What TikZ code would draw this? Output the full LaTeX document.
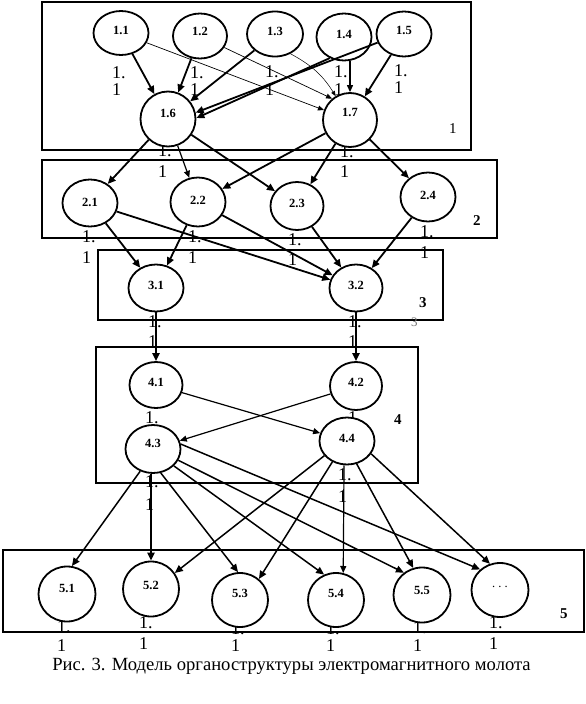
\documentclass[tikz,border=0pt]{standalone}
\usepackage{fontspec}
\setmainfont{Liberation Serif}
\usetikzlibrary{shapes.geometric,arrows.meta}
\newcommand\rs[2]{\raisebox{#1pt}[\height][\depth]{#2}}
\newcommand\strayp[4]{\node[stray] (#1a) at (#2,#3) {1.};\node[stray] (#1b) at (#2,#4) {1};}
\begin{document}
\begin{tikzpicture}[x=1pt,y=-1pt,
  nd/.style={draw,ellipse,line width=1.8pt,fill=white,inner sep=0pt,font=\fontsize{12.5}{13}\selectfont\bfseries},
  stray/.style={anchor=base west,inner sep=0pt,font=\fontsize{18}{20}\selectfont},
  boxl/.style={line width=2.6pt},
  blab/.style={anchor=base west,inner sep=0pt,font=\fontsize{15}{17}\selectfont\bfseries},
  thk/.style={line width=1.8pt,-{Triangle[length=8pt,width=7pt]}},
  med/.style={line width=1.2pt,-{Triangle[length=7pt,width=6pt]}},
  thn/.style={line width=0.7pt,-{Triangle[length=6pt,width=5pt]}},
]
\useasboundingbox (0,0) rectangle (586,704);
% stray labels
\strayp{a11}{112}{78}{95}
\strayp{a12}{190}{78}{95}
\strayp{a13}{265}{77}{95}
\strayp{a14}{334}{77}{95}
\strayp{a15}{394}{76}{93}
\strayp{a16}{158}{156}{177}
\strayp{a17}{340}{157}{177}
\strayp{a21}{82}{242}{263}
\strayp{a22}{188}{242}{263}
\strayp{a23}{288}{245}{265}
\strayp{a24}{420}{237}{258}
\strayp{a31}{148}{327}{347}
\strayp{a32}{348}{327}{347}
\node[stray] (a41) at (145,423) {1.};
\node[stray] (a42) at (348,423) {1.};
\strayp{a43}{145}{487}{510}
\strayp{a44}{338}{480}{502}
\strayp{a51}{57}{632}{651}
\strayp{a52}{139}{628}{649}
\strayp{a53}{231}{634}{651}
\strayp{a54}{326}{634}{651}
\strayp{a55}{413}{633}{651}
\strayp{a56}{489}{628}{649}
% boxes
\draw[boxl] (42,2) rectangle (471,150);
\draw[boxl] (42,160) rectangle (497,238);
\draw[boxl] (98,250) rectangle (443,320);
\draw[boxl] (96,347) rectangle (418,483);
\draw[boxl] (3,550) rectangle (584,632);
% box labels
\node[anchor=base west,inner sep=0pt,font=\fontsize{15}{16}\selectfont] (b1) at (449,133) {1};
\node[blab] (b2) at (473,225) {2};
\node[blab] (b3) at (419,307) {3};
\node[anchor=base west,inner sep=0pt,font=\fontsize{13}{14}\selectfont,text=black!55] (b3b) at (411,326) {3};
\node[blab] (b4) at (394,424) {4};
\node[blab] (b5) at (560,618) {5};
% nodes
\node[nd,minimum width=55pt,minimum height=44pt] (n11) at (121,33) {\rs{3}{1.1}};
\node[nd,minimum width=54pt,minimum height=45pt] (n12) at (200,36) {\rs{5}{1.2}};
\node[nd,minimum width=56pt,minimum height=45pt] (n13) at (275,34) {\rs{3}{1.3}};
\node[nd,minimum width=55pt,minimum height=47pt] (n14) at (344,37) {\rs{3}{1.4}};
\node[nd,minimum width=55pt,minimum height=45pt] (n15) at (404,34) {\rs{4}{1.5}};
\node[nd,minimum width=55pt,minimum height=55pt] (n16) at (168,119) {\rs{6}{1.6}};
\node[nd,minimum width=54pt,minimum height=54pt] (n17) at (350,120) {\rs{8}{1.7}};
\node[nd,minimum width=55pt,minimum height=47pt] (n21) at (90,203) {\rs{1}{2.1}};
\node[nd,minimum width=55pt,minimum height=49pt] (n22) at (198,202) {\rs{2}{2.2}};
\node[nd,minimum width=53pt,minimum height=48pt] (n23) at (297,206) {\rs{3}{2.3}};
\node[nd,minimum width=55pt,minimum height=49pt] (n24) at (428,197) {\rs{2}{2.4}};
\node[nd,minimum width=55pt,minimum height=47pt] (n31) at (156,288) {\rs{3}{3.1}};
\node[nd,minimum width=53pt,minimum height=47pt] (n32) at (356,288) {\rs{3}{3.2}};
\node[nd,minimum width=53pt,minimum height=46pt] (n41) at (156,385) {\rs{3}{4.1}};
\node[nd,minimum width=52pt,minimum height=48pt] (n42) at (356,386) {\rs{4}{4.2}};
\node[nd,minimum width=55pt,minimum height=48pt] (n43) at (153,449) {\rs{6}{4.3}};
\node[nd,minimum width=55pt,minimum height=47pt] (n44) at (347,441) {\rs{3}{4.4}};
\node[nd,minimum width=57pt,minimum height=55pt] (n51) at (67,594) {\rs{6}{5.1}};
\node[nd,minimum width=56pt,minimum height=55pt] (n52) at (151,589) {\rs{4}{5.2}};
\node[nd,minimum width=56pt,minimum height=54pt] (n53) at (240,600) {\rs{7}{5.3}};
\node[nd,minimum width=56pt,minimum height=54pt] (n54) at (336,600) {\rs{7}{5.4}};
\node[nd,minimum width=57pt,minimum height=55pt] (n55) at (422,595) {\rs{5}{5.5}};
\node[nd,minimum width=57pt,minimum height=54pt] (n56) at (500,590) {\rs{3}{\mdseries .\ .\ .}};
% level 1 arrows
\draw[thk] (n11) -- (n16);
\draw[thk] (n12) -- (n16);
\draw[thk] (n13) -- (n16);
\draw[thk] (n14.236) -- (n16.2);
\draw[thk] (n15.198) -- (n16.13);
\draw[med] (n17.north |- n14.south) -- (n17.north);
\draw[thk] (n15) -- (n17);
\draw[thn] (n11) -- (n17);
\draw[thn] (n12) -- (n17.130);
\draw[line width=0.5pt,-{Triangle[length=5pt,width=4pt]}] (n13.308) to[bend left=15] (n17.121);
% level 1 -> 2
\draw[thk] (n16) -- (n21);
\draw[med] (n16) -- (n22);
\draw[thk] (n16) -- (n23);
\draw[thk] (n17) -- (n22);
\draw[thk] (n17) -- (n23);
\draw[thk] (n17) -- (n24);
% level 2 -> 3
\draw[thk] (n21) -- (n31);
\draw[thk] (n22) -- (n31);
\draw[thk] (n21) -- (n32);
\draw[thk] (n22) -- (n32);
\draw[thk] (n23) -- (n32);
\draw[thk] (n24) -- (n32);
% level 3 -> 4
\draw[thk,line width=2.2pt] (n31) -- (n41);
\draw[thk,line width=2.2pt] (n32) -- (n42);
\draw[med] (n41) -- (n44);
\draw[med] (n42) -- (n43);
% level 4 -> 5
\draw[thk,line width=1.5pt] (n43.240) -- (n51.80);
\draw[thk,line width=2pt] (n43.south -| n52) -- (n52.north);
\draw[thk,line width=1.5pt] (n43.288) -- (n53.94);
\draw[thk,line width=1.5pt] (n43.321) -- (n54.115);
\draw[thk,line width=1.5pt] (n43.336) -- (n55.129);
\draw[thk,line width=1.5pt] (n43.10) -- (n56.134);
\draw[thk,line width=1.5pt] (n44.213) -- (n52.34);
\draw[thk,line width=1.5pt] (n44.235) -- (n53.48);
\draw[med] (n44.263) -- (n54.75);
\draw[thk,line width=1.5pt] (n44.293) -- (n55.108);
\draw[thk,line width=1.5pt] (n44.332) -- (n56.111);
% caption
\node[anchor=base,inner sep=0pt,font=\fontsize{18.6}{20}\selectfont] (cap) at (291.5,670) {Рис. 3. Модель органоструктуры электромагнитного молота};
\end{tikzpicture}
\end{document}
